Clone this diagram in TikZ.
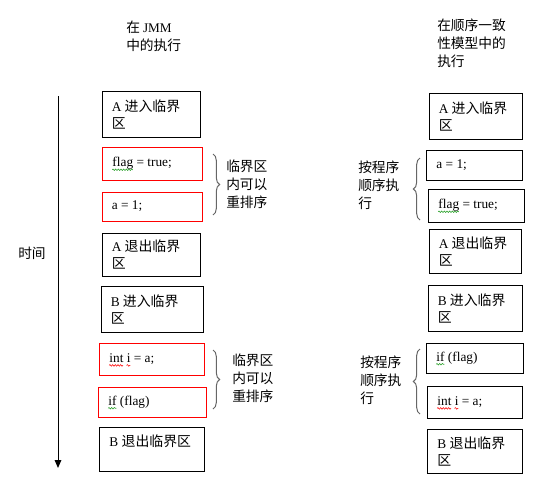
\documentclass[tikz,border=0pt]{standalone}
\usepackage{fontspec}
\setmainfont{Liberation Serif}
\newfontfamily\zh[Scale=1.04]{Noto Sans CJK SC}
\usetikzlibrary{fit,calc,arrows.meta,decorations.pathreplacing,decorations.pathmorphing}
\definecolor{wavegreen}{RGB}{40,160,40}

\begin{document}
\begin{tikzpicture}[x=0.75pt,y=0.75pt,yscale=-1,xscale=1,
  box/.style={draw,line width=0.75pt,inner sep=0pt},
  redbox/.style={box,draw=red},
  txt/.style={anchor=west,align=left,inner sep=0pt,font=\fontsize{10}{12.75}\selectfont},
  note/.style={anchor=north west,align=left,inner sep=0pt,font=\fontsize{9.9}{13.5}\selectfont\zh},
  squig/.style={draw=#1,line width=0.4pt,decorate,decoration={snake,amplitude=0.6pt,segment length=2pt}},
  curly/.style={draw=black!60,line width=0.75pt,decorate,decoration={brace,amplitude=5pt}}]
\useasboundingbox (0,0) rectangle (547,490);

% Titles
\node[note] (ttl) at (126,21) {在 {\rmfamily JMM}\\中的执行};
\node[note] (ttr) at (437,19) {在顺序一致\\性模型中的\\执行};

% Time axis
\coordinate (t0) at (58,96);
\coordinate (t1) at (58,468);
\draw[line width=0.75pt,-{Triangle[length=6pt,width=5pt]}] (t0) -- (t1);
\node[note,anchor=west] (time) at (18,253) {时间};

%Left column boxes
\node[box,fit={(102,91) (200,137)}] (la1) {};
\node[redbox,fit={(102,147) (202,180)}] (lf) {};
\node[redbox,fit={(102,192) (202,221)}] (la) {};
\node[box,fit={(102,233) (200,276)}] (la2) {};
\node[box,fit={(101,286) (203,332)}] (lb1) {};
\node[redbox,fit={(99,343) (204,375)}] (li) {};
\node[redbox,fit={(98,387) (206,417)}] (lif) {};
\node[box,fit={(99,427) (204,471)}] (lb2) {};

% Text Node
\node[txt] (tla1) at ([xshift=7.5pt]la1.west) {A {\zh 进入临界}\\{\zh 区}};
\node[txt] (tlf) at ([xshift=8pt]lf.west) {flag = true;};
\node[txt] (tla) at ([xshift=7.5pt]la.west) {a = 1;};
\node[txt] (tla2) at ([xshift=7.5pt]la2.west) {A {\zh 退出临界}\\{\zh 区}};
\node[txt] (tlb1) at ([xshift=7.5pt]lb1.west) {B {\zh 进入临界}\\{\zh 区}};
\node[txt] (tli) at ([xshift=8pt]li.west) {int i = a;};
\node[txt] (tlif) at ([xshift=8pt]lif.west) {if (flag)};
\node[txt] (tlb2) at ([xshift=8pt]lb2.west) {B {\zh 退出临界区}\\{\zh\phantom{区}}};

%Right column boxes
\node[box,fit={(429,93) (522,139)}] (ra1) {};
\node[box,fit={(426,150) (522,180)}] (ra) {};
\node[box,fit={(428,189) (524,222)}] (rf) {};
\node[box,fit={(429,229) (521,273)}] (ra2) {};
\node[box,fit={(428,285) (522,331)}] (rb1) {};
\node[box,fit={(426,343) (523,373)}] (rif) {};
\node[box,fit={(427,386) (522,418)}] (ri) {};
\node[box,fit={(427,429) (522,473)}] (rb2) {};

% Text Node
\node[txt] (tra1) at ([xshift=7.5pt]ra1.west) {A {\zh 进入临界}\\{\zh 区}};
\node[txt] (tra) at ([xshift=8pt]ra.west) {a = 1;};
\node[txt] (trf) at ([xshift=8pt]rf.west) {flag = true;};
\node[txt] (tra2) at ([xshift=7.5pt]ra2.west) {A {\zh 退出临界}\\{\zh 区}};
\node[txt] (trb1) at ([xshift=7.5pt]rb1.west) {B {\zh 进入临界}\\{\zh 区}};
\node[txt] (trif) at ([xshift=8pt]rif.west) {if (flag)};
\node[txt] (tri) at ([xshift=8pt]ri.west) {int i = a;};
\node[txt] (trb2) at ([xshift=8pt]rb2.west) {B {\zh 退出临界}\\{\zh 区}};

% spelling marks
\foreach \t in {tlf,trf}
  \draw[squig=wavegreen] ($(\t.base west)+(0,3)$) -- ++({width("flag")/0.75},0);
\foreach \t in {tlif,trif}
  \draw[squig=wavegreen] ($(\t.base west)+(0,3)$) -- ++({width("if")/0.75},0);
\foreach \t in {tli,tri}{
  \draw[squig=red] ($(\t.base west)+(0,3)$) -- ++({width("int")/0.75},0);
  \draw[squig=red] ($(\t.base west)+({width("int ")/0.75},3)$) -- ++({width("i")/0.75},0);
}

%Braces
\coordinate (bl1t) at (213,154);
\coordinate (bl1b) at (213,215);
\draw[curly] (bl1t) -- (bl1b);
\coordinate (bl2t) at (213,350);
\coordinate (bl2b) at (213,409);
\draw[curly] (bl2t) -- (bl2b);
\coordinate (br1t) at (420,158);
\coordinate (br1b) at (420,220);
\draw[curly] (br1b) -- (br1t);
\coordinate (br2t) at (420,349);
\coordinate (br2b) at (420,414);
\draw[curly] (br2b) -- (br2t);

\node[note] (nl1) at (226,160) {临界区\\内可以\\重排序};
\node[note] (nl2) at (232,354) {临界区\\内可以\\重排序};
\node[note] (nr1) at (358,161) {按程序\\顺序执\\行};
\node[note] (nr2) at (360,356) {按程序\\顺序执\\行};
\end{tikzpicture}
\end{document}
